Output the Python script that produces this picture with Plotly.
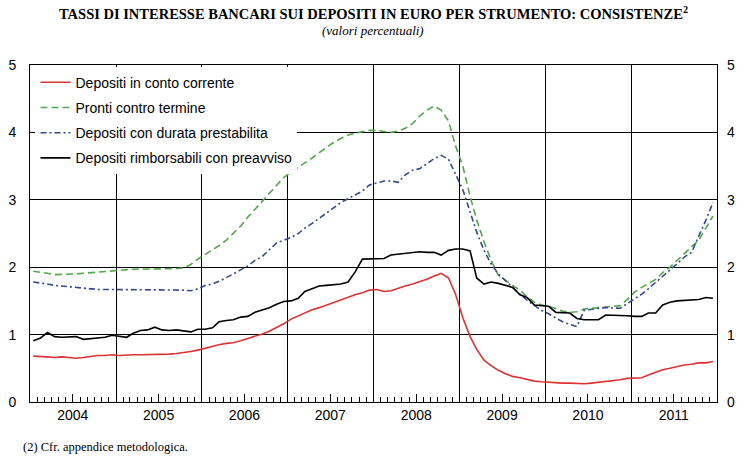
import pandas as pd
import plotly.graph_objects as go

# monthly observations, Jan 2004 - Dec 2011
months = pd.date_range("2004-01-01", "2011-12-01", freq="MS") + pd.Timedelta(days=14)

conto_corrente = [
    0.68, 0.68, 0.67, 0.66, 0.67, 0.66, 0.65, 0.66, 0.68, 0.69, 0.69, 0.70,
    0.69, 0.70, 0.70, 0.70, 0.70, 0.70, 0.71, 0.71, 0.72, 0.73, 0.75, 0.77,
    0.80, 0.82, 0.85, 0.87, 0.88, 0.91, 0.94, 0.98, 1.01, 1.05, 1.10, 1.16,
    1.23, 1.28, 1.32, 1.37, 1.40, 1.44, 1.48, 1.52, 1.56, 1.59, 1.62, 1.66,
    1.67, 1.64, 1.65, 1.69, 1.72, 1.75, 1.78, 1.82, 1.87, 1.91, 1.84, 1.60,
    1.25, 0.97, 0.78, 0.62, 0.54, 0.47, 0.42, 0.38, 0.36, 0.33, 0.31, 0.30,
    0.29, 0.29, 0.28, 0.28, 0.27, 0.27, 0.28, 0.29, 0.30, 0.31, 0.33, 0.35,
    0.35, 0.36, 0.40, 0.44, 0.48, 0.50, 0.53, 0.55, 0.56, 0.58, 0.58, 0.60,
]
pronti_termine = [
    1.94, 1.93, 1.91, 1.89, 1.89, 1.89, 1.90, 1.91, 1.92, 1.93, 1.94, 1.95,
    1.96, 1.97, 1.97, 1.97, 1.97, 1.97, 1.98, 1.98, 1.98, 1.99, 2.04, 2.12,
    2.19, 2.25, 2.32, 2.40, 2.50, 2.61, 2.74, 2.86, 2.98, 3.10, 3.22, 3.33,
    3.41, 3.48, 3.55, 3.62, 3.70, 3.78, 3.85, 3.91, 3.96, 3.99, 4.01, 4.03,
    4.03, 4.01, 4.00, 4.02, 4.06, 4.13, 4.24, 4.33, 4.39, 4.33, 4.17, 3.80,
    3.50, 3.05, 2.70, 2.38, 2.10, 1.88, 1.80, 1.73, 1.66, 1.56, 1.48, 1.44,
    1.42, 1.38, 1.35, 1.33, 1.34, 1.38, 1.39, 1.40, 1.41, 1.41, 1.43, 1.52,
    1.63, 1.70, 1.76, 1.82, 1.92, 2.00, 2.10, 2.20, 2.31, 2.40, 2.58, 2.76,
]
durata_prestabilita = [
    1.78, 1.77, 1.75, 1.73, 1.72, 1.70, 1.69, 1.68, 1.67, 1.67, 1.67, 1.67,
    1.67, 1.67, 1.67, 1.66, 1.66, 1.67, 1.67, 1.67, 1.66, 1.66, 1.65, 1.68,
    1.73, 1.75, 1.79, 1.84, 1.90, 1.96, 2.02, 2.10, 2.16, 2.26, 2.36, 2.40,
    2.44, 2.50, 2.58, 2.65, 2.73, 2.81, 2.88, 2.96, 3.02, 3.08, 3.13, 3.22,
    3.25, 3.28, 3.28, 3.26, 3.37, 3.44, 3.46, 3.53, 3.61, 3.66, 3.60, 3.38,
    3.15, 2.82, 2.52, 2.25, 2.05, 1.90, 1.80, 1.70, 1.60, 1.51, 1.43, 1.36,
    1.31, 1.25, 1.19, 1.15, 1.12, 1.36, 1.38, 1.39, 1.40, 1.40, 1.39, 1.46,
    1.53, 1.60, 1.68, 1.77, 1.87, 1.96, 2.05, 2.15, 2.22, 2.45, 2.70, 2.96,
]
rimborsabili_preavviso = [
    0.91, 0.95, 1.03, 0.97, 0.96, 0.97, 0.97, 0.93, 0.94, 0.95, 0.96, 0.99,
    0.98, 0.96, 1.02, 1.06, 1.07, 1.11, 1.07, 1.06, 1.07, 1.05, 1.04, 1.08,
    1.08, 1.10, 1.19, 1.21, 1.22, 1.26, 1.27, 1.33, 1.36, 1.40, 1.45, 1.49,
    1.50, 1.54, 1.64, 1.68, 1.72, 1.73, 1.74, 1.75, 1.78, 1.93, 2.12, 2.12,
    2.12, 2.13, 2.18, 2.19, 2.20, 2.21, 2.23, 2.22, 2.22, 2.18, 2.25, 2.27,
    2.27, 2.24, 1.84, 1.75, 1.78, 1.76, 1.73, 1.70, 1.59, 1.55, 1.44, 1.43,
    1.42, 1.33, 1.32, 1.32, 1.24, 1.22, 1.22, 1.22, 1.29, 1.29, 1.29, 1.28,
    1.27, 1.27, 1.32, 1.32, 1.44, 1.48, 1.50, 1.51, 1.52, 1.52, 1.55, 1.54,
]

years = list(range(2004, 2012))
year_starts = [f"{y}-01-01" for y in years] + ["2012-01-01"]
year_mids = [f"{y}-07-01" for y in years]
year_labels = [str(y) for y in years]

series = [
    ("Depositi in conto corrente", conto_corrente, "#dc3232", "solid"),
    ("Pronti contro termine", pronti_termine, "#4fa84a", "7px,4px"),
    ("Depositi con durata prestabilita", durata_prestabilita, "#37488f", "6px,3px,2px,3px"),
    ("Depositi rimborsabili con preavviso", rimborsabili_preavviso, "black", "solid"),
]

W, H = 746, 471
ML, MR, MT, MB = 30, 29, 65, 69

fig = go.Figure()
for i, (name, vals, color, dash) in enumerate(series):
    fig.add_scatter(
        x=months,
        y=vals,
        name=name,
        mode="lines",
        legendgroup=f"g{i}",
        line={"color": color, "width": 1.6, "dash": dash},
    )

# invisible copy so the year gridlines and the right-hand axis get drawn
fig.add_scatter(
    x=months,
    y=rimborsabili_preavviso,
    xaxis="x2",
    yaxis="y2",
    mode="lines",
    line={"width": 0},
    opacity=0,
    showlegend=False,
    hoverinfo="skip",
)


def px_to_paper(x, y):
    return (x - ML) / (W - ML - MR), (H - MB - y) / (H - MT - MB)


serif = "Liberation Serif, Times New Roman, serif"
tx, ty = px_to_paper(373, 13)
sx, sy = px_to_paper(373, 30)
fx, fy = px_to_paper(21, 447)

fig.update_layout(
    width=W,
    height=H,
    margin={"l": ML, "r": MR, "t": MT, "b": MB, "autoexpand": False},
    paper_bgcolor="white",
    plot_bgcolor="white",
    font={"family": "Liberation Sans, Arial, sans-serif", "color": "black", "size": 14},
    showlegend=True,
    legend={
        "x": 0.008,
        "y": 0.995,
        "xanchor": "left",
        "yanchor": "top",
        "bgcolor": "white",
        "font": {"size": 14, "family": "Liberation Sans, Arial, sans-serif"},
        "tracegroupgap": 4,
    },
    xaxis={
        "type": "date",
        "range": ["2004-01-01", "2012-01-01"],
        "tickmode": "array",
        "tickvals": year_mids,
        "ticktext": year_labels,
        "ticks": "inside",
        "ticklen": 8,
        "tickcolor": "black",
        "showgrid": False,
        "showline": True,
        "linecolor": "black",
        "linewidth": 1,
        "mirror": True,
        "zeroline": False,
        "tickfont": {"size": 14},
        "minor": {"dtick": "M1", "tick0": "2004-01-01", "ticks": "inside", "ticklen": 5, "tickcolor": "black"},
    },
    xaxis2={
        "type": "date",
        "overlaying": "x",
        "range": ["2004-01-01", "2012-01-01"],
        "tickmode": "array",
        "tickvals": year_starts,
        "showticklabels": False,
        "showgrid": True,
        "gridcolor": "black",
        "gridwidth": 1,
        "ticks": "",
        "zeroline": False,
    },
    yaxis={
        "range": [0, 5],
        "dtick": 1,
        "showgrid": True,
        "gridcolor": "black",
        "gridwidth": 1,
        "showline": True,
        "linecolor": "black",
        "mirror": True,
        "zeroline": False,
        "ticks": "",
        "ticklabelstandoff": 10,
        "tickfont": {"size": 14},
    },
    yaxis2={
        "range": [0, 5],
        "dtick": 1,
        "overlaying": "y",
        "side": "right",
        "showgrid": False,
        "zeroline": False,
        "ticks": "",
        "ticklabelstandoff": 9,
        "tickfont": {"size": 14},
    },
    annotations=[
        {
            "text": "<b>TASSI DI INTERESSE BANCARI SUI DEPOSITI IN EURO PER STRUMENTO: CONSISTENZE<sup>2</sup></b>",
            "x": tx, "y": ty, "xref": "paper", "yref": "paper",
            "xanchor": "center", "yanchor": "middle",
            "showarrow": False,
            "font": {"family": serif, "size": 14.5},
        },
        {
            "text": "<i>(valori percentuali)</i>",
            "x": sx, "y": sy, "xref": "paper", "yref": "paper",
            "xanchor": "center", "yanchor": "middle",
            "showarrow": False,
            "font": {"family": serif, "size": 13},
        },
        {
            "text": "(2) Cfr. appendice metodologica.",
            "x": fx, "y": fy, "xref": "paper", "yref": "paper",
            "xanchor": "left", "yanchor": "middle",
            "showarrow": False,
            "font": {"family": serif, "size": 12.5},
        },
    ],
)

fig.write_html(
    "out.html",
    config={"displayModeBar": False},
    post_script="document.body.style.margin = '0';",
)
